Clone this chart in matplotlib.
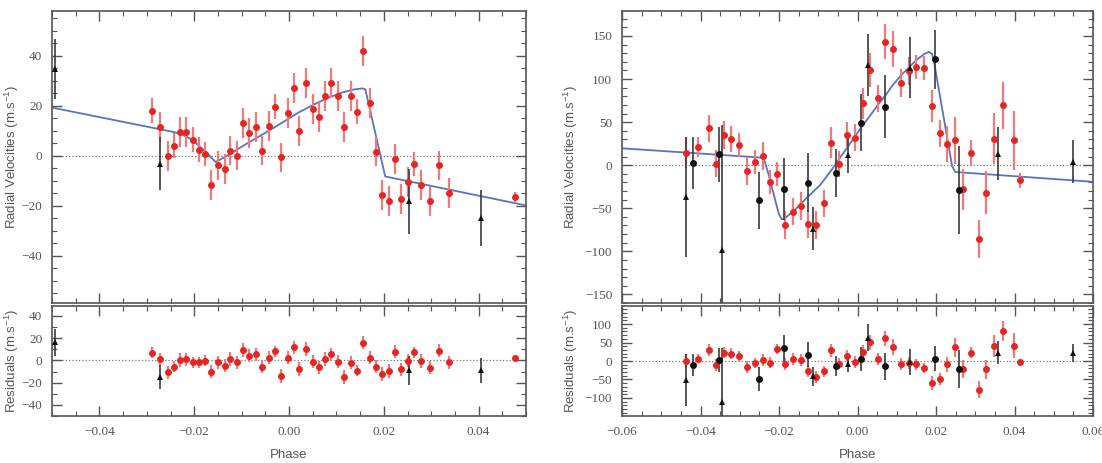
import numpy as np
import matplotlib
matplotlib.use("Agg")
import matplotlib.pyplot as plt
from matplotlib.ticker import MultipleLocator

plt.rcParams['mathtext.fontset'] = 'custom'
plt.rcParams['mathtext.rm'] = 'Liberation Sans'
plt.rcParams['mathtext.it'] = 'Liberation Sans:italic'

# ---------------- left panel data ----------------
left_red_phase = [-0.0289, -0.0272, -0.0256, -0.0243, -0.0229, -0.0217, -0.0203, -0.0189, -0.0177, -0.0164,
                  -0.0150, -0.0136, -0.0124, -0.0110, -0.0097, -0.0084, -0.0070, -0.0057, -0.0043, -0.0029,
                  -0.0016, -0.0003, 0.0010, 0.0022, 0.0036, 0.0050, 0.0064, 0.0077, 0.0089, 0.0103,
                  0.0117, 0.0131, 0.0143, 0.0157, 0.0170, 0.0184, 0.0197, 0.0210, 0.0224, 0.0237,
                  0.0250, 0.0264, 0.0278, 0.0297, 0.0316, 0.0337, 0.0477]
left_red_rv = [18.0, 11.7, 0.0, 4.1, 9.7, 9.5, 6.4, 2.4, 0.7, -11.9,
               -3.9, -5.3, 2.1, 0.1, 13.1, 9.1, 11.7, 2.1, 12.1, 19.7,
               -0.7, 17.3, 27.3, 10.1, 29.1, 18.7, 15.5, 24.1, 29.1, 24.0,
               11.5, 24.0, 17.7, 42.1, 21.1, 1.7, -15.9, -18.3, -1.2, -17.2,
               -10.5, -3.3, -11.9, -18.3, -3.9, -14.9, -16.5]
left_red_err = [5, 6, 6, 5, 6, 6, 5, 5, 5, 6,
                6, 6, 6, 6, 6, 6, 6, 6, 6, 5,
                6, 6, 6, 6, 6, 6, 6, 6, 6, 6,
                6, 6, 5, 6, 6, 6, 6, 6, 6, 6,
                6, 5, 6, 6, 6, 6, 2]
left_red_res = [6.9, 0.9, -10.8, -5.7, 0.3, 0.9, -1.8, -1.8, -0.3, -10.2,
                -1.8, -4.8, 1.2, -1.8, 9.3, 4.2, 5.4, -5.7, 2.4, 8.4,
                -13.9, 2.4, 11.7, -7.8, 10.2, -1.2, -6.3, 1.2, 5.4, -1.2,
                -14.8, -2.1, -9.3, 15.9, 2.4, -5.7, -12.3, -9.6, 7.8, -8.1,
                -0.3, 7.2, -0.6, -6.6, 8.7, -1.8, 2.4]

left_tri_phase = [-0.0493, -0.0272, 0.0254, 0.0405]
left_tri_rv = [34.7, -3.2, -18.3, -24.9]
left_tri_err = [12, 10.6, 13, 11.2]
left_tri_res = [16.2, -14.8, -8.7, -8.7]

left_model_phase = [-0.05, -0.0243, -0.0225, -0.0205, -0.0190, -0.0170, -0.0155, -0.0140, -0.0120, -0.0100,
                    -0.0070, -0.0040, -0.0010, 0.0020, 0.0050, 0.0080, 0.0110, 0.0135, 0.0155, 0.0161,
                    0.0203, 0.05]
left_model_rv = [19.3, 9.5, 8.5, 6.5, 4.0, 0.5, -2.5, -1.0, 1.2, 3.6,
                 7.0, 10.3, 13.8, 17.3, 20.3, 23.0, 25.2, 26.5, 27.0, 26.6,
                 -8.3, -19.9]

# ---------------- right panel data ----------------
right_red_phase = [-0.0436, -0.0407, -0.0379, -0.0360, -0.0341, -0.0322, -0.0301, -0.0282, -0.0262, -0.0242,
                   -0.0224, -0.0204, -0.0184, -0.0164, -0.0144, -0.0125, -0.0105, -0.0086, -0.0067, -0.0047,
                   -0.0027, -0.0007, 0.0013, 0.0033, 0.0052, 0.0071, 0.0090, 0.0110, 0.0130, 0.0150,
                   0.0170, 0.0190, 0.0209, 0.0228, 0.0249, 0.0269, 0.0289, 0.0309, 0.0327, 0.0347,
                   0.0371, 0.0398, 0.0413]
right_red_rv = [14.6, 21.1, 42.8, 1.8, 35.0, 30.8, 23.4, -6.8, 4.1, 10.6,
                -19.6, -9.8, -69.6, -53.8, -47.3, -68.5, -69.6, -44.3, 26.0, 1.8,
                34.7, 32.0, 71.8, 110.5, 77.6, 143.5, 134.6, 95.1, 109.4, 114.0,
                113.3, 68.7, 37.0, 24.2, 28.9, -28.0, 13.8, -86.1, -31.9, 30.8,
                69.5, 28.9, -17.6]
right_red_err = [18, 12, 16, 16, 16, 15, 14, 16, 14, 16,
                 14, 14, 16, 16, 16, 16, 16, 16, 18, 15,
                 15, 16, 18, 20, 16, 20, 21, 16, 16, 14,
                 14, 19, 16, 21, 27, 24, 15, 22, 25, 30,
                 27, 34, 9]
right_red_res = [0.0, 6.4, 29.3, -11.8, 23.0, 20.2, 13.7, -16.4, -5.5, 1.9,
                 -4.4, 32.0, -7.3, 4.7, 3.7, -28.2, -43.8, -28.2, 29.3, -7.3,
                 13.7, -2.7, 24.7, 50.4, 4.7, 61.4, 38.4, -9.1, -5.5, -9.1,
                 -18.2, -59.3, -48.3, -9.1, 36.6, -20.9, 21.9, -77.5, -22.8, 41.0,
                 81.4, 41.0, -2.7]

right_circ_phase = [-0.0420, -0.0352, -0.0250, -0.0186, -0.0125, -0.0054, 0.0009, 0.0071, 0.0198, 0.0258]
right_circ_rv = [2.9, 12.6, -40.8, -28.0, -20.3, -9.5, 49.4, 68.0, 123.0, -29.2]
right_circ_err = [30, 32, 33, 36, 34, 28, 33, 37, 34, 51]
right_circ_res = [-10.0, 1.9, -48.3, 34.0, 17.5, -13.7, 4.7, -14.6, 6.4, -20.9]

right_tri_phase = [-0.0436, -0.0344, -0.0114, -0.0025, 0.0026, 0.0133, 0.0357, 0.0548]
right_tri_rv = [-37.0, -98.5, -73.7, 11.4, 116.3, 113.3, 13.4, 4.1]
right_tri_err = [70, 145, 25, 21, 36, 35, 31, 25]
right_tri_res = [-51.0, -110.4, -41.9, -9.1, 63.0, -2.7, 23.0, 21.9]

right_model_phase = [-0.06, -0.0242, -0.0236, -0.0224, -0.0210, -0.0200, -0.0193, -0.0186, -0.0160, -0.0125,
                     -0.0095, -0.0067, -0.0047, -0.0027, -0.0007, 0.0013, 0.0033, 0.0052, 0.0071, 0.0090,
                     0.0110, 0.0130, 0.0150, 0.0170, 0.0182, 0.0190, 0.0195, 0.0241, 0.0249, 0.06]
right_model_rv = [19.6, 8.7, 4.0, -15.0, -40.0, -57.0, -63.0, -62.0, -52.0, -36.0,
                  -23.0, -6.0, 7.0, 20.0, 33.0, 46.0, 58.0, 70.0, 81.0, 93.0,
                  104.0, 113.0, 122.0, 129.0, 131.5, 129.0, 120.0, -1.0, -7.9, -19.3]

RED = '#e52521'
RED_ERR = '#f07a7a'
BLK = '#111111'
BLK_ERR = '#3a3a3a'
BLUE = '#5873c4'
GREY = '#555555'

fig = plt.figure(figsize=(11.02, 4.63), dpi=100)

W, H = 1102.0, 463.0


def make_axes(x0, x1, y_top, y_bot):
    return fig.add_axes([x0 / W, 1 - y_bot / H, (x1 - x0) / W, (y_bot - y_top) / H])


def style(ax, xlim, ylim, ymaj, ymin, show_x):
    ax.set_xlim(*xlim)
    ax.set_ylim(*ylim)
    ax.xaxis.set_major_locator(MultipleLocator(0.02))
    ax.xaxis.set_minor_locator(MultipleLocator(0.005))
    ax.yaxis.set_major_locator(MultipleLocator(ymaj))
    ax.yaxis.set_minor_locator(MultipleLocator(ymin))
    ax.tick_params(which='both', direction='in', top=True, right=True, colors=GREY,
                   labelsize=9.5, pad=7)
    ax.tick_params(which='major', length=7, width=1.0)
    ax.tick_params(which='minor', length=3.5, width=0.8)
    for lab in ax.get_xticklabels() + ax.get_yticklabels():
        lab.set_fontfamily('Liberation Serif')
    if not show_x:
        ax.tick_params(axis='x', labelbottom=False)
    for sp in ax.spines.values():
        sp.set_color(GREY)
        sp.set_linewidth(1.2)
    ax.axhline(0, color='#777777', linestyle=':', linewidth=0.9, zorder=1)


def points(ax, x, y, e, marker, mc, ec, elw):
    ax.errorbar(x, y, yerr=e, fmt=marker, color=mc, ecolor=ec, elinewidth=elw,
                markersize=5, capsize=0, markeredgewidth=0, zorder=3)


label_kw = dict(fontfamily='Liberation Sans', fontsize=9.5, color=GREY)

# left panel
axL = make_axes(52, 526, 11, 303)
axLr = make_axes(52, 526, 306, 416)
style(axL, (-0.05, 0.05), (-59, 58), 20, 5, False)
style(axLr, (-0.05, 0.05), (-50, 49), 20, 10, True)
axL.plot(left_model_phase, left_model_rv, color=BLUE, linewidth=1.3, zorder=2)
points(axL, left_red_phase, left_red_rv, left_red_err, 'o', RED, RED_ERR, 1.6)
points(axL, left_tri_phase, left_tri_rv, left_tri_err, '^', BLK, BLK_ERR, 1.2)
points(axLr, left_red_phase, left_red_res, left_red_err, 'o', RED, RED_ERR, 1.6)
points(axLr, left_tri_phase, left_tri_res, left_tri_err, '^', BLK, BLK_ERR, 1.2)
axL.set_ylabel('Radial Velocities (m.s$^{-1}$)', **label_kw)
axLr.set_ylabel('Residuals (m.s$^{-1}$)', **label_kw)
axLr.set_xlabel('Phase', **label_kw)
axL.yaxis.set_label_coords(-0.066, 0.5)
axLr.yaxis.set_label_coords(-0.066, 0.5)
axLr.xaxis.labelpad = 8

# right panel
axR = make_axes(622, 1093, 11, 303)
axRr = make_axes(622, 1093, 306, 416)
style(axR, (-0.06, 0.06), (-160, 179), 50, 10, False)
style(axRr, (-0.06, 0.06), (-149, 149), 50, 10, True)
axR.plot(right_model_phase, right_model_rv, color=BLUE, linewidth=1.3, zorder=2)
points(axR, right_red_phase, right_red_rv, right_red_err, 'o', RED, RED_ERR, 1.6)
points(axR, right_circ_phase, right_circ_rv, right_circ_err, 'o', BLK, BLK_ERR, 1.2)
points(axR, right_tri_phase, right_tri_rv, right_tri_err, '^', BLK, BLK_ERR, 1.2)
points(axRr, right_red_phase, right_red_res, right_red_err, 'o', RED, RED_ERR, 1.6)
points(axRr, right_circ_phase, right_circ_res, right_circ_err, 'o', BLK, BLK_ERR, 1.2)
points(axRr, right_tri_phase, right_tri_res, right_tri_err, '^', BLK, BLK_ERR, 1.2)
axR.set_ylabel('Radial Velocities (m.s$^{-1}$)', **label_kw)
axRr.set_ylabel('Residuals (m.s$^{-1}$)', **label_kw)
axRr.set_xlabel('Phase', **label_kw)
axR.yaxis.set_label_coords(-0.089, 0.5)
axRr.yaxis.set_label_coords(-0.089, 0.5)
axRr.xaxis.labelpad = 8

fig.savefig('out.png', dpi=100)
